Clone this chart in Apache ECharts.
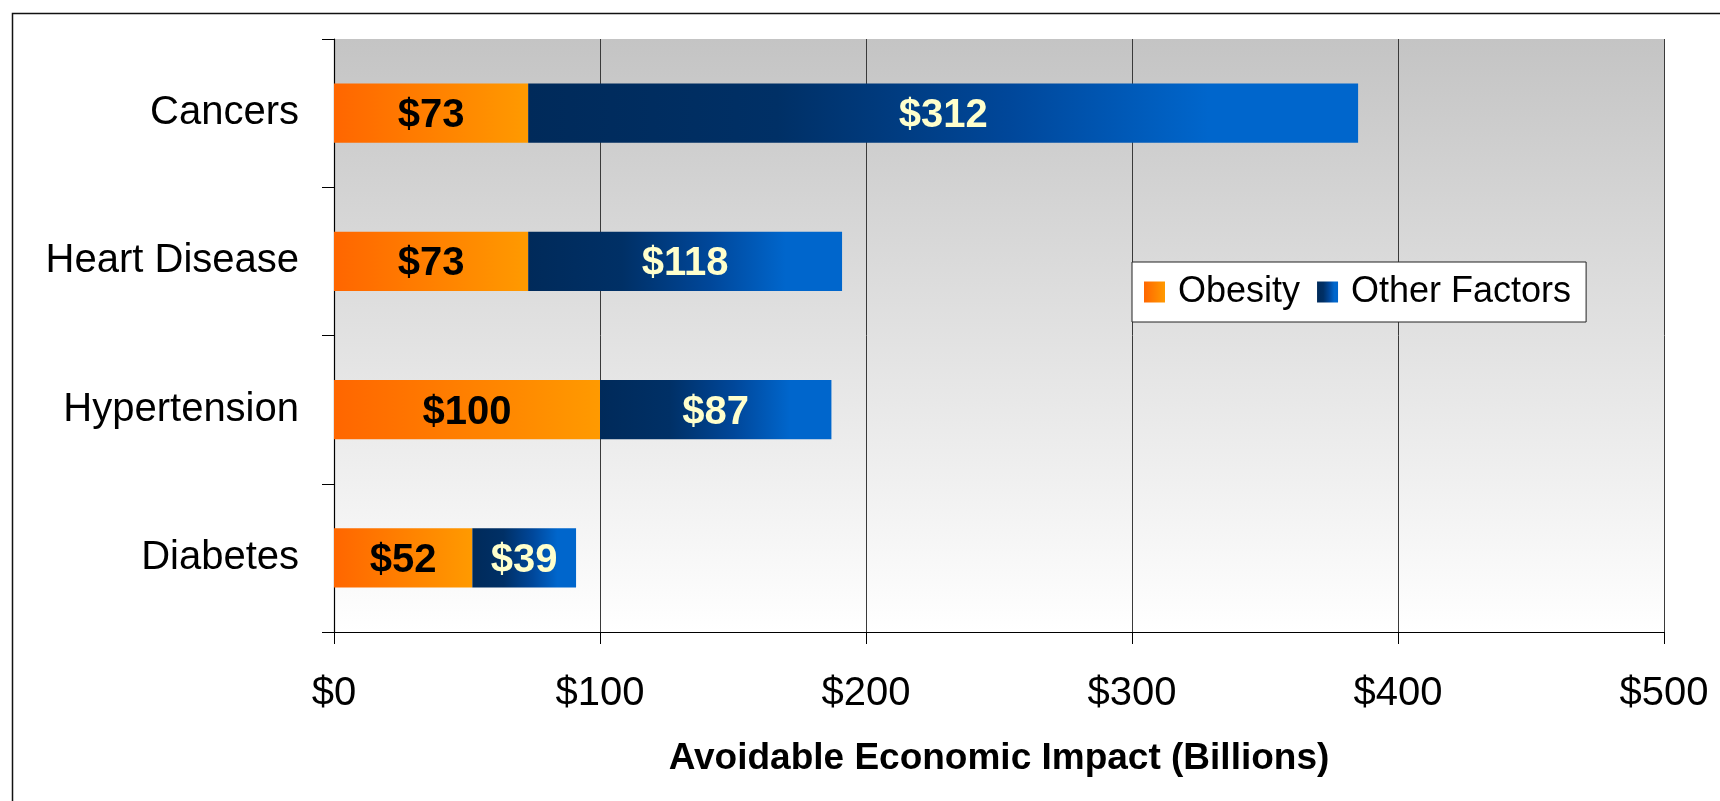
<!DOCTYPE html>
<html>
<head>
<meta charset="utf-8">
<title>Avoidable Economic Impact</title>
<script src="https://cdn.jsdelivr.net/npm/echarts@6/dist/echarts.min.js"></script>
<style>
  html, body { margin: 0; padding: 0; background: #ffffff; }
  #chart { width: 1720px; height: 801px; }
</style>
</head>
<body>
<div id="chart"></div>
<script>
// Conditions, top to bottom
const categories = ['Cancers', 'Heart Disease', 'Hypertension', 'Diabetes'];
// Avoidable economic impact, billions of dollars
const obesityValues = [73, 73, 100, 52];
const otherFactorValues = [312, 118, 87, 39];
const seriesNames = ['Obesity', 'Other Factors'];
const xTickValues = [0, 100, 200, 300, 400, 500];

const FONT = '"Liberation Sans", Arial, Helvetica, sans-serif';

const orangeFill = new echarts.graphic.LinearGradient(0, 0, 1, 0, [
  { offset: 0, color: '#ff6600' },
  { offset: 1, color: '#ff9a00' }
]);
const blueFill = new echarts.graphic.LinearGradient(0, 0, 1, 0, [
  { offset: 0, color: '#002a5a' },
  { offset: 0.3, color: '#003066' },
  { offset: 0.58, color: '#00479a' },
  { offset: 0.82, color: '#0066cc' },
  { offset: 1, color: '#0066cc' }
]);

const chart = echarts.init(document.getElementById('chart'), null, { renderer: 'canvas' });

chart.setOption({
  animation: false,
  backgroundColor: '#ffffff',
  textStyle: { fontFamily: FONT },
  graphic: [{
    type: 'rect',
    left: 10, top: 11,
    shape: { width: 1730, height: 810 },
    style: { fill: 'none', stroke: '#111111', lineWidth: 1.5 },
    silent: true,
    z: 100
  }],
  grid: {
    left: 334, right: 56, top: 39, bottom: 169,
    show: true,
    borderWidth: 0,
    backgroundColor: new echarts.graphic.LinearGradient(0, 0, 0, 1, [
      { offset: 0, color: '#c4c4c4' },
      { offset: 1, color: '#ffffff' }
    ])
  },
  legend: {
    data: seriesNames,
    left: 1132, top: 262,
    orient: 'horizontal',
    backgroundColor: '#ffffff',
    borderColor: '#222222',
    borderWidth: 1,
    borderRadius: 0,
    padding: [12, 15, 12, 12],
    itemWidth: 21, itemHeight: 21, itemGap: 17,
    icon: 'rect',
    textStyle: {
      fontFamily: FONT, fontSize: 36, color: '#000000',
      lineHeight: 36, padding: [0, 0, 0, 8]
    }
  },
  xAxis: {
    type: 'value',
    min: xTickValues[0],
    max: xTickValues[xTickValues.length - 1],
    interval: 100,
    name: 'Avoidable Economic Impact (Billions)',
    nameLocation: 'middle',
    nameGap: 108,
    nameTextStyle: { fontFamily: FONT, fontSize: 37, fontWeight: 'bold', color: '#000000', lineHeight: 37 },
    axisLine: { show: true, lineStyle: { color: '#000000', width: 1.2 } },
    axisTick: { show: true, length: 12, lineStyle: { color: '#000000', width: 1 } },
    axisLabel: {
      margin: 42,
      fontFamily: FONT, fontSize: 40, color: '#000000', lineHeight: 40,
      formatter: v => '$' + v
    },
    splitLine: { show: true, lineStyle: { color: '#3a3a3a', width: 1 } }
  },
  yAxis: {
    type: 'category',
    data: categories,
    inverse: true,
    axisLine: { show: true, lineStyle: { color: '#000000', width: 1.2 } },
    axisTick: { show: true, length: 12, alignWithLabel: false, lineStyle: { color: '#000000', width: 1 } },
    axisLabel: { margin: 35, fontFamily: FONT, fontSize: 40, color: '#000000', padding: [6, 0, 0, 0] },
    splitLine: { show: false }
  },
  series: [
    {
      name: seriesNames[0],
      type: 'bar',
      stack: 'impact',
      data: obesityValues,
      barWidth: '40%',
      itemStyle: { color: orangeFill },
      label: {
        show: true, position: 'inside', offset: [0, 3],
        fontFamily: FONT, fontSize: 40, fontWeight: 'bold', color: '#000000',
        formatter: p => '$' + p.value
      }
    },
    {
      name: seriesNames[1],
      type: 'bar',
      stack: 'impact',
      data: otherFactorValues,
      barWidth: '40%',
      itemStyle: { color: blueFill },
      label: {
        show: true, position: 'inside', offset: [0, 3],
        fontFamily: FONT, fontSize: 40, fontWeight: 'bold', color: '#ffffcc',
        formatter: p => '$' + p.value
      }
    }
  ]
});
</script>
</body>
</html>
